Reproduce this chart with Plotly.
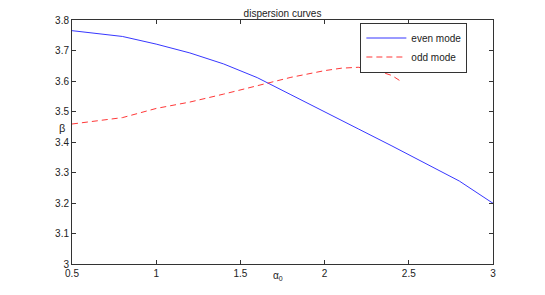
import plotly.graph_objects as go

# even mode (blue, solid)
even_alpha = [0.5, 0.8, 1.0, 1.2, 1.4, 1.6, 1.8, 2.0, 2.2, 2.4, 2.5, 2.6, 2.7, 2.8, 3.0]
even_beta = [3.765, 3.746, 3.721, 3.692, 3.656, 3.611, 3.555, 3.500, 3.443, 3.387, 3.358,
             3.329, 3.300, 3.272, 3.199]

# odd mode (red, dashed)
odd_alpha = [0.5, 0.8, 1.0, 1.2, 1.4, 1.6, 1.8, 2.0, 2.1, 2.2, 2.3, 2.4, 2.45]
odd_beta = [3.459, 3.480, 3.510, 3.531, 3.557, 3.585, 3.612, 3.634, 3.642, 3.645, 3.636,
            3.618, 3.600]

x_ticks = [0.5, 1.0, 1.5, 2.0, 2.5, 3.0]
x_ticktext = ["0.5", "1", "1.5", "2", "2.5", "3"]
y_ticks = [3.0, 3.1, 3.2, 3.3, 3.4, 3.5, 3.6, 3.7, 3.8]
y_ticktext = ["3", "3.1", "3.2", "3.3", "3.4", "3.5", "3.6", "3.7", "3.8"]

FONT = "Liberation Sans, Arial, Helvetica, sans-serif"

# the page body adds an 8px offset; the figure is sized to fit the 545x295 window
OFF = 8
W, H = 545 - OFF, 295 - OFF
PL, PR, PT, PB = 71.5, 492.7, 20, 264  # plot area in window pixels
pw, ph = PR - PL, PB - PT

fig = go.Figure()
fig.add_trace(go.Scatter(x=even_alpha, y=even_beta, mode="lines", name="even mode",
                         line=dict(color="#2020ff", width=0.9)))
fig.add_trace(go.Scatter(x=odd_alpha, y=odd_beta, mode="lines", name="odd mode",
                         line=dict(color="#ff2020", width=0.9, dash="6px,4px")))

axis_common = dict(showgrid=False, zeroline=False, showline=True, linecolor="#333333",
                   linewidth=1, mirror="ticks", ticks="inside", ticklen=4,
                   tickcolor="#333333", tickfont=dict(family=FONT, size=10, color="#222222"))

fig.update_layout(
    width=W, height=H,
    margin=dict(l=PL - OFF, r=W - (PR - OFF), t=PT - OFF, b=H - (PB - OFF), autoexpand=False),
    paper_bgcolor="white", plot_bgcolor="white",
    font=dict(family=FONT, size=10, color="#222222"),
    title=dict(text="dispersion curves", x=0.5, xref="paper", xanchor="center",
               y=1 - (13 - OFF) / H, yref="container", yanchor="middle",
               font=dict(family=FONT, size=10, color="#222222")),
    xaxis=dict(range=[0.5, 3.0], tickvals=x_ticks, ticktext=x_ticktext, **axis_common),
    yaxis=dict(range=[3.0, 3.8], tickvals=y_ticks, ticktext=y_ticktext, **axis_common),
    legend=dict(x=(360 - PL) / pw, y=1 - (22.5 - PT) / ph, xanchor="left", yanchor="top",
                bgcolor="white", bordercolor="#333333", borderwidth=1,
                font=dict(family=FONT, size=10, color="#222222"),
                itemwidth=40, entrywidth=110, tracegroupgap=0),
    showlegend=True,
    annotations=[
        dict(text="α<sub>0</sub>", xref="paper", yref="paper",
             x=(278 - PL) / pw, y=-(276 - PB) / ph, showarrow=False,
             xanchor="center", yanchor="middle",
             font=dict(family=FONT, size=10, color="#222222")),
        dict(text="β", xref="paper", yref="paper",
             x=-(PL - 61) / pw, y=(PB - 128) / ph, showarrow=False,
             xanchor="center", yanchor="middle",
             font=dict(family=FONT, size=11, color="#222222")),
    ],
)

fig.write_html("out.html")
